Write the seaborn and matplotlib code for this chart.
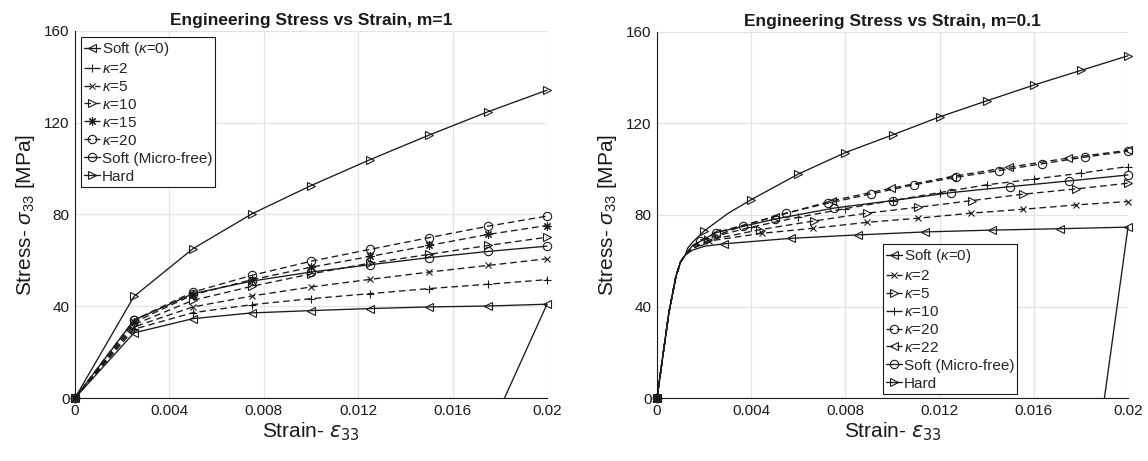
import matplotlib
matplotlib.use("Agg")
import matplotlib.pyplot as plt
import seaborn as sns

# ---------------- m = 1 (rate-sensitivity exponent) ----------------
strain_m1 = [0, 0.0025, 0.005, 0.0075, 0.01, 0.0125, 0.015, 0.0175, 0.02]
soft_k0_m1 = [0, 28.4, 34.6, 37.1, 38.1, 39.0, 39.7, 40.1, 40.9]
k2_m1 = [0, 30.0, 37.2, 40.7, 43.3, 45.5, 47.7, 49.6, 51.6]
k5_m1 = [0, 31.0, 39.7, 44.5, 48.4, 51.7, 54.9, 57.8, 60.7]
k10_m1 = [0, 32.0, 42.6, 48.7, 54.1, 58.8, 62.6, 66.5, 70.1]
k15_m1 = [0, 33.0, 45.0, 51.6, 57.0, 61.7, 66.5, 71.3, 75.2]
k20_m1 = [0, 34.0, 46.2, 53.5, 59.6, 64.8, 69.9, 74.9, 79.3]
microfree_m1 = [0, 33.9, 45.5, 51.0, 54.9, 58.1, 61.2, 63.9, 66.2]
hard_m1 = [0, 44.3, 65.1, 80.3, 92.6, 103.9, 114.6, 124.8, 134.2]
unload_strain_m1 = [0.02, 0.0182]
unload_stress_m1 = [40.9, 0]

# ---------------- m = 0.1 ----------------
# shared elastic branch (no markers)
elastic_strain = [0.0005, 0.0008, 0.001, 0.0012]
elastic_stress = [37.0, 53.0, 59.5, 62.5]

# per-curve yield-knee points (no markers)
soft_k0_knee_eps, soft_k0_knee_sig = [0.0015, 0.002], [64.6, 66.3]
k2_knee_eps, k2_knee_sig = [0.0015], [65.2]
k5_knee_eps, k5_knee_sig = [0.0015], [65.5]
k10_knee_eps, k10_knee_sig = [0.0015], [66.0]
k20_knee_eps, k20_knee_sig = [0.0015], [66.5]
k22_knee_eps, k22_knee_sig = [0.0015], [66.6]
microfree_knee_eps, microfree_knee_sig = [0.0015], [66.5]
hard_knee_eps, hard_knee_sig = [0.0013, 0.0015], [65.5, 68.0]

# marker points
soft_k0_eps = [0, 0.00283, 0.00568, 0.00853, 0.01138, 0.01424, 0.01711, 0.02]
soft_k0_sig = [0, 67.4, 69.8, 71.3, 72.6, 73.4, 74.0, 74.7]
k2_eps = [0, 0.0022, 0.00445, 0.00664, 0.00891, 0.0111, 0.01332, 0.01555, 0.01779, 0.02]
k2_sig = [0, 68.6, 72.0, 74.2, 76.8, 78.6, 80.8, 82.5, 84.4, 85.9]
k5_eps = [0, 0.00218, 0.00438, 0.00667, 0.00891, 0.0111, 0.01336, 0.01555, 0.01779, 0.02]
k5_sig = [0, 69.0, 73.6, 77.4, 80.8, 83.4, 86.3, 89.1, 91.4, 93.9]
k10_eps = [0, 0.002, 0.004, 0.006, 0.008, 0.010, 0.012, 0.014, 0.016, 0.018, 0.02]
k10_sig = [0, 69.5, 74.7, 79.0, 82.8, 86.3, 89.8, 93.2, 95.7, 98.3, 101.2]
k20_eps = [0, 0.00182, 0.00364, 0.00546, 0.00728, 0.00909, 0.01091, 0.0127,
           0.01453, 0.01636, 0.01817, 0.02]
k20_sig = [0, 68.5, 75.2, 80.8, 85.2, 89.2, 93.2, 96.5, 99.4, 102.4, 105.3, 107.9]
k22_eps = [0, 0.0025, 0.005, 0.00745, 0.00994, 0.01251, 0.01496, 0.01746, 0.02]
k22_sig = [0, 72.3, 79.3, 86.3, 91.7, 96.8, 100.9, 104.9, 108.3]
microfree_eps = [0, 0.0025, 0.005, 0.0075, 0.01, 0.0125, 0.015, 0.0175, 0.02]
microfree_sig = [0, 72.3, 78.2, 83.0, 86.3, 89.8, 92.4, 94.9, 97.5]
hard_eps = [0, 0.002, 0.003, 0.004, 0.006, 0.008, 0.010, 0.012, 0.014, 0.016, 0.018, 0.02]
hard_sig = [0, 73.0, 80.6, 86.7, 97.9, 107.3, 115.0, 122.9, 129.9, 136.8, 143.2, 149.6]
hard_unmarked = [0.003]
unload_strain_m01 = [0.02, 0.0190]
unload_stress_m01 = [74.7, 0]

x_ticks = [0, 0.004, 0.008, 0.012, 0.016, 0.02]
x_ticklabels = ["0", "0.004", "0.008", "0.012", "0.016", "0.02"]
y_ticks = [0, 40, 80, 120, 160]

# ---------------- styling ----------------
sns.set_theme(style="white")
plt.rcParams["font.family"] = ["Liberation Sans", "DejaVu Sans"]
plt.rcParams["mathtext.fontset"] = "custom"
plt.rcParams["mathtext.rm"] = "Liberation Sans"
plt.rcParams["mathtext.it"] = "Liberation Sans:italic"
plt.rcParams["mathtext.bf"] = "Liberation Sans:bold"
plt.rcParams["mathtext.fallback"] = "stixsans"

INK = "#1a1a1a"
LW = 0.95
DASH = (5, 3)


def draw(ax, x, y, label, marker, dashed, ms=6.0, markevery=None):
    kw = dict(x=x, y=y, ax=ax, sort=False, estimator=None, color=INK,
              lw=LW, marker=marker, markersize=ms, markerfacecolor="none",
              markeredgecolor=INK, markeredgewidth=0.8, clip_on=False)
    if label is not None:
        kw["label"] = label
    if markevery is not None:
        kw["markevery"] = markevery
    sns.lineplot(**kw)
    line = ax.get_lines()[-1]
    if dashed:
        line.set_dashes(DASH)
    return line


def with_knee(eps, sig, knee_eps, knee_sig, unmarked=()):
    pts = [(0.0, 0.0, True)]
    pts += [(e, s, False) for e, s in zip(elastic_strain, elastic_stress)]
    pts += [(e, s, False) for e, s in zip(knee_eps, knee_sig)]
    pts += [(e, s, e not in unmarked) for e, s in zip(eps[1:], sig[1:])]
    xs = [p[0] for p in pts]
    ys = [p[1] for p in pts]
    marks = [i for i, p in enumerate(pts) if p[2]]
    return xs, ys, marks


def style_axes(ax, title):
    ax.set_xlim(0, 0.02)
    ax.set_ylim(0, 160)
    ax.set_xticks(x_ticks)
    ax.set_xticklabels(x_ticklabels)
    ax.set_yticks(y_ticks)
    ax.grid(True, color="#e3e3e3", lw=0.9)
    ax.set_axisbelow(True)
    for s in ("top", "right"):
        ax.spines[s].set_visible(False)
    for s in ("left", "bottom"):
        ax.spines[s].set_color(INK)
        ax.spines[s].set_linewidth(0.8)
    ax.tick_params(direction="in", length=4, width=0.8, colors=INK,
                   labelsize=11, pad=4, labelcolor=INK)
    xl = ax.set_xlabel(r"Strain- $\epsilon_{33}$", fontsize=15, color=INK, labelpad=2)
    xl.set_math_fontfamily("dejavusans")
    ax.set_ylabel(r"Stress- $\sigma_{33}$ [MPa]", fontsize=15, color=INK, labelpad=5)
    ax.set_title(title, fontsize=12.5, fontweight="bold", color=INK, pad=4)


def legend(ax, anchor):
    leg = ax.legend(loc="upper left", bbox_to_anchor=anchor, borderaxespad=0,
                    fontsize=11, handlelength=1.05, handletextpad=0.1,
                    labelspacing=0.26, borderpad=0.2, frameon=True,
                    fancybox=False, framealpha=1, edgecolor=INK)
    leg.get_frame().set_linewidth(0.8)


fig = plt.figure(figsize=(11.48, 4.61), dpi=100)
axL = fig.add_axes([75 / 1148, 63 / 461, 472 / 1148, 367 / 461])
axR = fig.add_axes([657 / 1148, 63 / 461, 471 / 1148, 366 / 461])

# ---- left panel ----
draw(axL, strain_m1, soft_k0_m1, r"Soft ($\kappa$=0)", "<", False)
draw(axL, strain_m1, k2_m1, r"$\kappa$=2", "+", True)
draw(axL, strain_m1, k5_m1, r"$\kappa$=5", "x", True, ms=4.5)
draw(axL, strain_m1, k10_m1, r"$\kappa$=10", ">", True)
draw(axL, strain_m1, k15_m1, r"$\kappa$=15", (8, 2, 0), True)
draw(axL, strain_m1, k20_m1, r"$\kappa$=20", "o", True)
draw(axL, strain_m1, microfree_m1, "Soft (Micro-free)", "o", False)
draw(axL, strain_m1, hard_m1, "Hard", ">", False)
draw(axL, unload_strain_m1, unload_stress_m1, None, None, False)
style_axes(axL, "Engineering Stress vs Strain, m=1")
legend(axL, (0.013, 0.984))

# ---- right panel ----
x, y, m = with_knee(soft_k0_eps, soft_k0_sig, soft_k0_knee_eps, soft_k0_knee_sig)
draw(axR, x, y, r"Soft ($\kappa$=0)", "<", False, markevery=m)
x, y, m = with_knee(k2_eps, k2_sig, k2_knee_eps, k2_knee_sig)
draw(axR, x, y, r"$\kappa$=2", "x", True, ms=4.5, markevery=m)
x, y, m = with_knee(k5_eps, k5_sig, k5_knee_eps, k5_knee_sig)
draw(axR, x, y, r"$\kappa$=5", ">", True, markevery=m)
x, y, m = with_knee(k10_eps, k10_sig, k10_knee_eps, k10_knee_sig)
draw(axR, x, y, r"$\kappa$=10", "+", True, markevery=m)
x, y, m = with_knee(k20_eps, k20_sig, k20_knee_eps, k20_knee_sig)
draw(axR, x, y, r"$\kappa$=20", "o", True, markevery=m)
x, y, m = with_knee(k22_eps, k22_sig, k22_knee_eps, k22_knee_sig)
draw(axR, x, y, r"$\kappa$=22", "<", True, markevery=m)
x, y, m = with_knee(microfree_eps, microfree_sig, microfree_knee_eps, microfree_knee_sig)
draw(axR, x, y, "Soft (Micro-free)", "o", False, markevery=m)
x, y, m = with_knee(hard_eps, hard_sig, hard_knee_eps, hard_knee_sig, hard_unmarked)
draw(axR, x, y, "Hard", ">", False, markevery=m)
draw(axR, unload_strain_m01, unload_stress_m01, None, None, False)
style_axes(axR, "Engineering Stress vs Strain, m=0.1")
legend(axR, (0.48, 0.421))

fig.savefig("out.png", dpi=100)
